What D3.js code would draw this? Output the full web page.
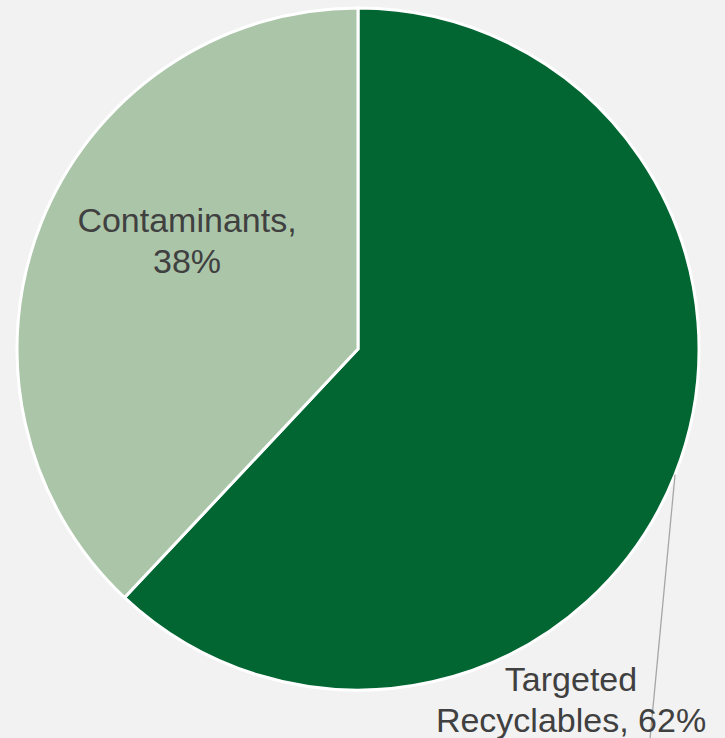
<!DOCTYPE html>
<html>
<head>
<meta charset="utf-8">
<script src="https://cdn.jsdelivr.net/npm/d3@7"></script>
<style>
  html, body { margin: 0; padding: 0; background: #f2f2f2; }
  svg { display: block; }
</style>
</head>
<body>
<svg id="chart" width="725" height="738"></svg>
<script>
// data
const categories = ["Targeted Recyclables", "Contaminants"];
const shares = [62, 38];
const labelLines = [["Targeted", "Recyclables, 62%"], ["Contaminants,", "38%"]];
const colors = ["#026633", "#abc5a9"];

const width = 725, height = 738;
const cx = 358, cy = 349, radius = 341;

const svg = d3.select("#chart");
svg.append("rect").attr("width", width).attr("height", height).attr("fill", "#f2f2f2");

const data = categories.map((c, i) => ({ name: c, value: shares[i], lines: labelLines[i], color: colors[i] }));

const pie = d3.pie().sort(null).value(d => d.value);
const arc = d3.arc().innerRadius(0).outerRadius(radius);
const arcs = pie(data);

const g = svg.append("g").attr("transform", `translate(${cx},${cy})`);

g.selectAll("path")
  .data(arcs)
  .enter()
  .append("path")
  .attr("d", arc)
  .attr("fill", d => d.data.color)
  .attr("stroke", "white")
  .style("stroke-width", "3px");

// label placement (manually placed, like the original)
const labelPos = [[571, 691], [187, 232]];

// leader line for the outside label, from the middle of the slice edge
const a0 = arcs[0];
const midAngle = (a0.startAngle + a0.endAngle) / 2;
const edge = [Math.sin(midAngle) * radius, -Math.cos(midAngle) * radius];
g.append("line")
  .attr("x1", edge[0]).attr("y1", edge[1])
  .attr("x2", 648 - cx).attr("y2", 760 - cy)
  .attr("stroke", "#a6a6a6")
  .attr("stroke-width", 1.3);

const labels = svg.selectAll("text.lbl")
  .data(data)
  .enter()
  .append("text")
  .attr("class", "lbl")
  .attr("x", (d, i) => labelPos[i][0])
  .attr("y", (d, i) => labelPos[i][1])
  .attr("text-anchor", "middle")
  .attr("fill", "#404040")
  .style("font-family", "'Liberation Sans', Arial, sans-serif")
  .style("font-size", "34px");

labels.each(function(d, i) {
  const t = d3.select(this);
  d.lines.forEach((ln, j) => {
    t.append("tspan")
      .attr("x", labelPos[i][0])
      .attr("dy", j === 0 ? 0 : 41)
      .text(ln);
  });
});
</script>
</body>
</html>
